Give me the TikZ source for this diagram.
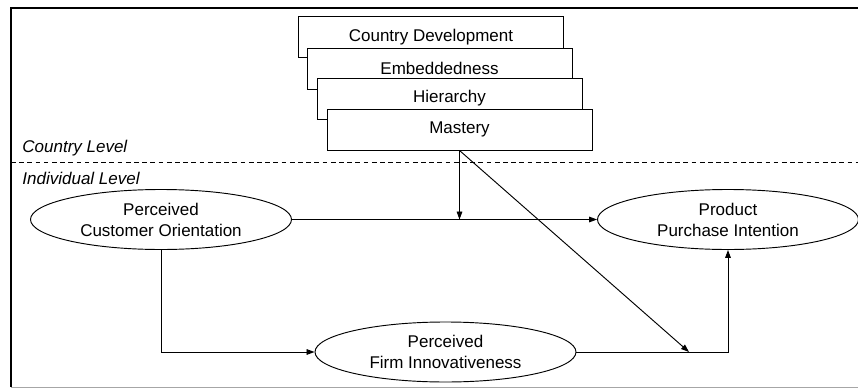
\documentclass[tikz,border=0pt]{standalone}
\usepackage{fontspec}
\setmainfont{Liberation Sans}
\usetikzlibrary{shapes.geometric,arrows.meta}

\begin{document}
\begin{tikzpicture}[x=0.03cm,y=-0.03cm,font=\fontsize{14.5}{18}\selectfont,
    >={Triangle[length=0.24cm,width=0.17cm]}, line width=0.8pt]
\tikzstyle{layer}=[draw, fill=white, rectangle, minimum width=7.95cm, minimum height=1.23cm, inner sep=0pt]
\tikzstyle{construct}=[draw, ellipse, minimum width=7.83cm, minimum height=1.8cm, inner sep=0pt, align=center]
\tikzstyle{level}=[anchor=west, inner sep=0pt, font=\fontsize{14.5}{18}\selectfont\itshape]
    \useasboundingbox (0,0) rectangle (858,389);

    % frame
    \draw[line width=1.6pt] (858,8) -- (11,8) -- (11,387);
    \draw[gray!70] (11,387) -- (858,387);

    % country level
    \node[layer] (cd) at (431,37) {Country Development};
    \node[layer] (emb) at (439.5,68.5) {Embeddedness};
    \node[layer] (hier) at (449.5,98.5) {Hierarchy};
    \node[layer] (mast) at (459.5,129.5) {Mastery};

    \node[level] (cl) at (22,148) {Country Level};
    \draw[dashed, dash pattern=on 4pt off 3pt] (11,162) -- (858,162);
    \node[level] (il) at (22,178) {Individual Level};

    % individual level
    \node[construct] (pco) at (161,219.5) {Perceived\\Customer Orientation};
    \node[construct] (ppi) at (728,219.5) {Product\\Purchase Intention};
    \node[construct] (pfi) at (445.5,352) {Perceived\\Firm Innovativeness};

    \coordinate (m1) at (459.5,219.5);
    \coordinate (m2) at (689,352);

    \draw[->] (pco.east) -- (ppi.west);
    \draw[->] (pco.south) |- (pfi.west);
    \draw[->] (pfi.east) -| (ppi.south);

    \draw[->] (mast.south) -- (m1);
    \draw[->] (mast.south) -- (m2);
\end{tikzpicture}
\end{document}
